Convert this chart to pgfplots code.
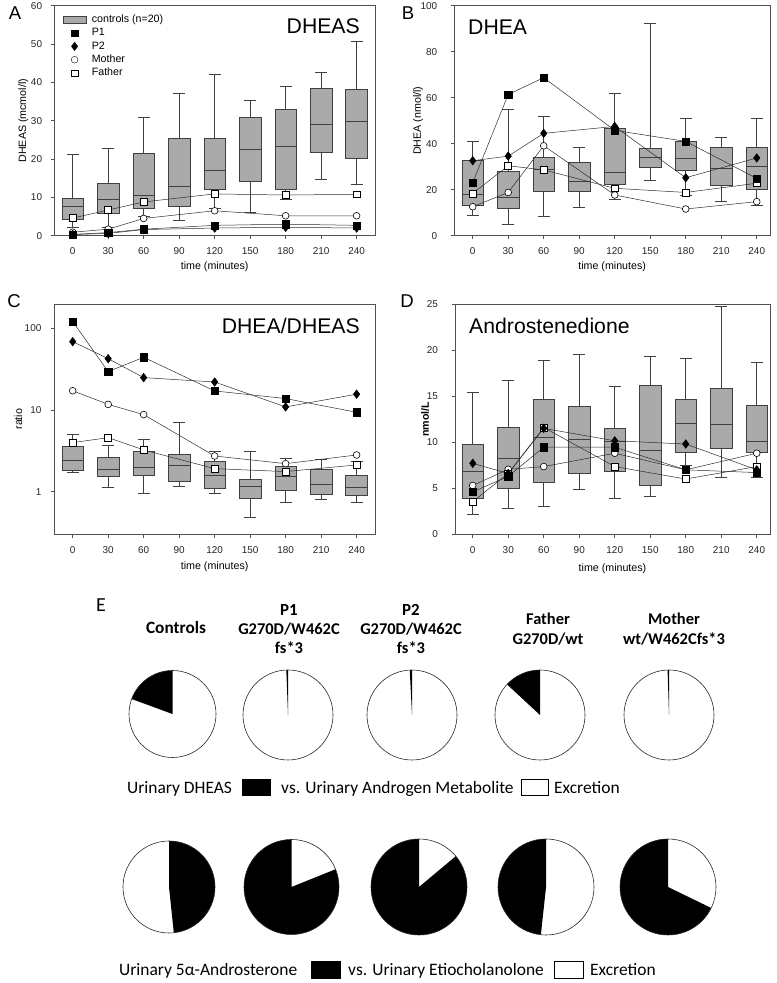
\documentclass[border=0pt]{standalone}
\usepackage{fontspec}
\setmainfont{Liberation Sans}
\newfontfamily\calib{Carlito}
\usepackage{pgfplots}
\usepackage{pgfplotstable}
\pgfplotsset{compat=1.18}
\usepgfplotslibrary{statistics}

\definecolor{boxgray}{RGB}{170,170,170}
\definecolor{boxedge}{RGB}{64,64,64}
\definecolor{axgray}{RGB}{80,80,80}
\definecolor{lngray}{RGB}{45,45,45}

\newcommand{\fs}[1]{\fontsize{#1}{#1}\selectfont}

% ---- controls (n=20): whiskers, quartiles, median per time point ----
\pgfplotstableread{
t   lw   lq   med  uq   uw
0   2.3  4.3  7.6  9.7  21.3
30  2.3  5.8  9.5  13.7 22.8
60  5.1  7.1  10.6 21.5 30.9
90  4.1  7.6  12.8 25.4 37.1
120 7.1  12.1 17.0 25.4 42.1
150 6.1  14.3 22.5 30.9 35.4
180 9.5  12.1 23.4 33.0 38.9
210 14.7 21.7 29.1 38.4 42.6
240 13.4 20.3 29.8 38.2 50.8
}\boxA
\pgfplotstableread{
t   lw   lq   med  uq   uw
0   9.0  13.3 18.0 32.9 40.9
30  5.1  11.9 16.5 27.8 54.9
60  8.3  19.1 29.0 34.1 52.0
90  12.3 19.4 23.8 31.9 38.4
120 15.8 22.3 27.4 46.7 61.9
150 24.2 29.7 33.9 38.0 92.3
180 17.7 28.6 33.6 41.0 51.0
210 14.8 22.0 29.3 38.4 42.8
240 13.3 20.3 30.0 38.4 51.0
}\boxB
\pgfplotstableread{
t   lw   lq   med  uq   uw
0   1.71 1.81 2.42 3.56 5.04
30  1.13 1.53 1.89 2.61 3.66
60  0.95 1.60 1.99 3.09 4.37
90  1.17 1.33 2.08 2.89 7.06
120 0.95 1.09 1.60 2.33 3.09
150 0.48 0.83 1.15 1.42 3.09
180 0.75 1.03 1.53 2.02 2.56
210 0.81 0.93 1.24 1.88 2.49
240 0.75 0.91 1.12 1.57 2.33
}\boxC
\pgfplotstableread{
t   lw   lq   med   uq   uw
0   2.17 3.9  6.87  9.8  15.4
30  2.86 4.99 8.25  11.6 16.75
60  3.04 5.6  10.5  14.7 18.85
90  4.88 6.6  10.35 13.9 19.5
120 3.87 6.84 10.1  11.5 16.1
150 4.1  5.3  9.1   16.2 19.3
180 7.5  8.9  12.05 14.7 19.1
210 6.2  9.3  11.9  15.9 24.8
240 6.2  8.9  10.1  14.0 18.7
}\boxD

% ---- patients and parents ----
\pgfplotstableread{
t   p1   p2   mo   fa
0   0.35 0.3  0.9  4.6
30  0.8  0.6  1.7  6.7
60  1.7  1.6  4.5  8.8
120 2.7  2.0  6.5  10.9
180 3.0  2.2  5.2  10.6
240 2.7  2.0  5.2  10.8
}\serA
\pgfplotstableread{
t   p1   p2   mo   fa
0   23.0 32.6 12.6 18.4
30  61.4 34.6 18.8 30.4
60  68.7 44.5 39.1 28.6
120 45.8 47.5 17.7 20.6
180 41.0 25.2 11.6 18.8
240 24.9 33.8 14.8 22.8
}\serB
\pgfplotstableread{
t   p1   p2   mo   fa
0   121  68.7 17.2 3.98
30  29.5 42.5 11.7 4.58
60  44.2 24.9 8.77 3.24
120 17.1 22.0 2.73 1.91
180 13.8 10.9 2.2  1.76
240 9.36 15.6 2.81 2.12
}\serC
\pgfplotstableread{
t   p1   p2    mo   fa
0   4.6  7.7   5.3  3.55
30  6.3  6.6   7.05 6.6
60  9.45 11.5  7.35 11.6
120 9.45 10.15 8.8  7.35
180 7.0  9.8   7.0  6.0
240 6.7  7.0   8.8  7.35
}\serD

% ---- urinary pies: centre, radius, start angle, black fraction ----
\pgfplotstableread{
cx    cy   r    start  frac
172.5 269  43.5 90     0.194
288   268  45   90     0.006
412   268  45   90     0.008
540   268  45   90     0.131
669   268  45   90     0.005
169   96   46   -84    0.483
291.5 96   47.5 -270   0.811
419   96   48   -270   0.861
546   96   48   90     0.483
668   96   48   -270   0.678
}\pies

\pgfplotsset{
  panel/.style={
    scale only axis, clip=false, anchor=south west,
    axis line style={axgray, line width=0.7pt},
    tick style={axgray, line width=0.6pt},
    tick align=outside, tick pos=left,
    major tick length=3.5pt,
    xtick={0,30,...,240},
    ticklabel style={font=\fs{10}, text=black!85},
    /pgf/number format/assume math mode=true,
    xticklabel style={anchor=base, yshift=-15.4pt},
    yticklabel style={anchor=east, inner sep=0pt},
    label style={font=\fs{10.7}},
    xlabel={time (minutes)},
    xlabel style={at={(axis description cs:0.5,0)}, anchor=center},
    ylabel style={anchor=center},
    boxplot/draw direction=y,
    boxplot/box extend=18.3,
    boxplot/whisker extend=10,
    boxplot/every box/.style={draw=boxedge, fill=boxgray, line width=0.6pt},
    boxplot/every whisker/.style={boxedge, line width=0.6pt},
    boxplot/every median/.style={boxedge, line width=0.8pt},
  },
  ser/.style={lngray, line width=0.5pt},
  markleg/.style={legend image code/.code={\path (0pt,0pt) (23pt,0pt); \draw[##1] plot coordinates {(11.5pt,0pt)};}},
}

\newcommand{\controls}[1]{%
  \pgfplotsinvokeforeach{0,...,8}{%
    \pgfplotstablegetelem{##1}{t}\of#1\let\bT\pgfplotsretval
    \pgfplotstablegetelem{##1}{lw}\of#1\let\bLW\pgfplotsretval
    \pgfplotstablegetelem{##1}{lq}\of#1\let\bLQ\pgfplotsretval
    \pgfplotstablegetelem{##1}{med}\of#1\let\bMD\pgfplotsretval
    \pgfplotstablegetelem{##1}{uq}\of#1\let\bUQ\pgfplotsretval
    \pgfplotstablegetelem{##1}{uw}\of#1\let\bUW\pgfplotsretval
    \edef\doBox{\noexpand\addplot[boxplot prepared={draw position=\bT,
      lower whisker=\bLW, lower quartile=\bLQ, median=\bMD,
      upper quartile=\bUQ, upper whisker=\bUW}] coordinates {};}%
    \doBox}}
\newcommand{\patients}[1]{%
  \addplot[ser, mark=*, mark size=3.4pt, mark options={solid, draw=black, fill=white, line width=0.6pt}] table[x=t, y=mo] {#1};
  \addplot[ser, mark=square*, mark size=3.5pt, mark options={solid, draw=black, fill=white, line width=0.6pt}] table[x=t, y=fa] {#1};
  \addplot[ser, mark=diamond*, mark size=4.3pt, mark options={solid, draw=black, fill=black}] table[x=t, y=p2] {#1};
  \addplot[ser, mark=square*, mark size=3.6pt, mark options={solid, draw=black, fill=black}] table[x=t, y=p1] {#1};}

\begin{document}
\begin{tikzpicture}
\useasboundingbox (0bp,0bp) rectangle (777bp,983bp);

% A
\begin{axis}[panel, at={(54.3bp,747.3bp)}, width=320.7bp, height=230bp,
  xmin=-15.55, xmax=255.55, ymin=0, ymax=60, ytick={0,10,...,60},
  yticklabel style={xshift=-8.6pt},
  ylabel={DHEAS (mcmol/l)}, ylabel style={at={(axis description cs:-0.0967,0.5)}},
  xlabel style={yshift=-31.3pt},
  legend style={at={(0.026,0.966)}, anchor=north west, draw=none, fill=none,
    inner sep=0pt, row sep=1.4pt, font=\fs{10.7}, legend cell align=left,
    nodes={inner sep=1pt, text height=7.7pt, text depth=2.3pt},
    /tikz/every odd column/.append style={column sep=4.5pt}}]
\addlegendimage{legend image code/.code={\draw[fill=boxgray, draw=boxedge, line width=0.6pt] (0pt,-3.5pt) rectangle (23pt,3.5pt);}}
\addlegendentry{controls (n=20)}
\addlegendimage{markleg, only marks, mark=square*, mark size=3.2pt, mark options={draw=black, fill=black}}
\addlegendentry{P1}
\addlegendimage{markleg, only marks, mark=diamond*, mark size=4.2pt, mark options={draw=black, fill=black}}
\addlegendentry{P2}
\addlegendimage{markleg, only marks, mark=*, mark size=3.4pt, mark options={draw=black, fill=white}}
\addlegendentry{Mother}
\addlegendimage{markleg, only marks, mark=square*, mark size=3.2pt, mark options={draw=black, fill=white}}
\addlegendentry{Father}
\controls{\boxA}
\patients{\serA}
\end{axis}

% B
\begin{axis}[panel, at={(454.3bp,747.3bp)}, width=315.7bp, height=230bp,
  xmin=-15.55, xmax=251.2, ymin=0, ymax=100, ytick={0,20,...,100},
  yticklabel style={xshift=-13.5pt},
  ylabel={DHEA (nmol/l)}, ylabel style={at={(axis description cs:-0.115,0.5)}},
  xlabel style={yshift=-31pt}]
\controls{\boxB}
\patients{\serB}
\end{axis}

% C
\begin{axis}[panel, at={(54.3bp,448.7bp)}, width=320.7bp, height=230.3bp,
  xmin=-15.55, xmax=255.55, ymode=log, ymin=0.3, ymax=198.6,
  ytick={1,10,100}, yticklabels={1,10,100}, yminorticks=false,
  yticklabel style={xshift=-9.3pt},
  ylabel={ratio}, ylabel style={at={(axis description cs:-0.1123,0.5)}},
  xlabel style={yshift=-32.4pt}]
\controls{\boxC}
\patients{\serC}
\end{axis}

% D
\begin{axis}[panel, at={(455bp,448.7bp)}, width=315bp, height=230.3bp,
  xmin=-15, xmax=251.2, ymin=0, ymax=25, ytick={0,5,...,25},
  yticklabel style={xshift=-13.5pt},
  ylabel={\bfseries nmol/L}, ylabel style={at={(axis description cs:-0.0952,0.5)}},
  xlabel style={yshift=-34.7pt}]
\controls{\boxD}
\patients{\serD}
\end{axis}

% E: pies
\begin{axis}[hide axis, scale only axis, clip=false, width=777bp, height=983bp,
  xmin=0, xmax=777, ymin=0, ymax=983, at={(0bp,0bp)}, anchor=south west]
\pgfplotsinvokeforeach{0,...,9}{
  \pgfplotstablegetelem{#1}{cx}\of\pies \let\pcx\pgfplotsretval
  \pgfplotstablegetelem{#1}{cy}\of\pies \let\pcy\pgfplotsretval
  \pgfplotstablegetelem{#1}{r}\of\pies \let\prad\pgfplotsretval
  \pgfplotstablegetelem{#1}{start}\of\pies \let\pst\pgfplotsretval
  \pgfplotstablegetelem{#1}{frac}\of\pies \let\pfr\pgfplotsretval
  \pgfmathsetmacro\pend{\pst+360*\pfr}
  \edef\doPie{\noexpand\fill[black] (axis cs:\pcx,\pcy) -- ([shift={(\pst:\prad bp)}]axis cs:\pcx,\pcy)
      arc[start angle=\pst, end angle=\pend, radius=\prad bp] -- cycle;
    \noexpand\draw[line width=0.6pt, black!85] (axis cs:\pcx,\pcy) circle[radius=\prad bp];}
  \doPie
}
\end{axis}

\begin{scope}[x=1bp, y=1bp]
% panel letters and titles
\node[font=\fs{18.6}] at (15,970) {A};
\node[font=\fs{18.6}] at (408,970) {B};
\node[font=\fs{18.6}] at (14,682) {C};
\node[font=\fs{18.6}] at (407,682) {D};
\node[font=\fs{21.3}, anchor=east, inner sep=0pt] at (360,957) {DHEAS};
\node[font=\fs{21.3}, anchor=west, inner sep=0pt] at (468,956) {DHEA};
\node[font=\fs{21.3}, anchor=east, inner sep=0pt] at (360,657) {DHEA/DHEAS};
\node[font=\fs{21.3}, anchor=west, inner sep=0pt] at (469,657) {Androstenedione};

% E labels
\node[font=\calib\fs{20}] at (101,378) {E};
\begin{scope}[every node/.style={font=\calib\bfseries\fs{16.5}, anchor=base, inner sep=0pt}]
\node[font=\calib\bfseries\fs{17.3}] at (176,349.4) {Controls};
\node[font=\calib\bfseries\fs{17}] at (289,367.6) {P1};
\node at (289,348.6) {G270D/W462C};
\node at (289,329.6) {fs*3};
\node[font=\calib\bfseries\fs{17}] at (411,367.6) {P2};
\node at (411,348.6) {G270D/W462C};
\node at (411,329.6) {fs*3};
\node at (548,358.6) {Father};
\node at (548,338.6) {G270D/wt};
\node at (674,358.6) {Mother};
\node at (674,338.6) {wt/W462Cfs*3};
\end{scope}

% E legends
\begin{scope}[every node/.style={font=\calib\fs{17.5}, anchor=base west, inner sep=0pt}]
\node at (127,189.4) {Urinary DHEAS};
\draw[fill=black] (242,187.5) rectangle (270,203.5);
\node at (281,189.4) {vs. Urinary Androgen Metabolite};
\draw[fill=white, line width=0.6pt] (521,187.5) rectangle (548,203.5);
\node at (554,189.4) {Excretion};
\node at (119,7.4) {Urinary 5α-Androsterone};
\draw[fill=black] (311,4.5) rectangle (340,21.5);
\node at (348,7.4) {vs. Urinary Etiocholanolone};
\draw[fill=white, line width=0.6pt] (554,4.5) rectangle (583,21.5);
\node at (590,7.4) {Excretion};
\end{scope}
\end{scope}
\end{tikzpicture}
\end{document}
